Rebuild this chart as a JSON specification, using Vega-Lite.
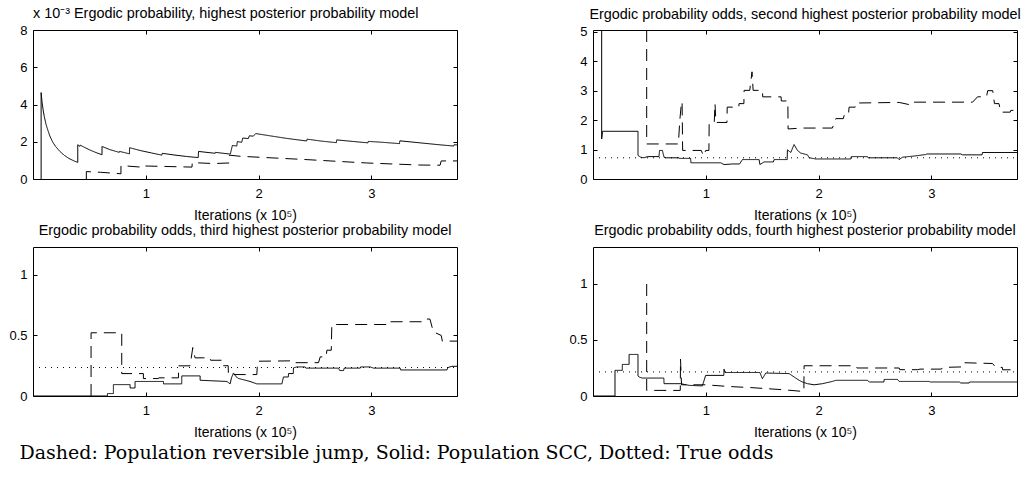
{
  "$schema": "https://vega.github.io/schema/vega-lite/v6.json",
  "background": "white",
  "padding": {"left": 8, "top": 5, "right": 2, "bottom": 2},
  "config": {
    "view": {"stroke": "#000", "strokeWidth": 1},
    "axis": {"labelFont": "Liberation Sans", "labelFontSize": 13, "labelColor": "#000", "titleFont": "Liberation Sans", "titleFontSize": 14, "titleFontWeight": "normal", "titleColor": "#000", "tickColor": "#000", "tickSize": -4, "domain": false, "grid": false, "labelPadding": 10, "titlePadding": 8, "format": "~g", "minExtent": 0},
    "axisX": {"labelPadding": 12},
    "title": {"font": "Liberation Sans", "fontSize": 14.4, "fontWeight": "normal", "color": "#000", "frame": "group", "offset": 8, "baseline": "alphabetic"}
  },
  "datasets": {
    "p1": [
      {"s": "Solid", "i": 1, "x": 0.072, "y": 0},
      {"s": "Solid", "i": 2, "x": 0.072, "y": 4.64},
      {"s": "Solid", "i": 3, "x": 0.08, "y": 4.15},
      {"s": "Solid", "i": 4, "x": 0.09, "y": 3.7},
      {"s": "Solid", "i": 5, "x": 0.1, "y": 3.35},
      {"s": "Solid", "i": 6, "x": 0.115, "y": 2.95},
      {"s": "Solid", "i": 7, "x": 0.13, "y": 2.65},
      {"s": "Solid", "i": 8, "x": 0.15, "y": 2.3},
      {"s": "Solid", "i": 9, "x": 0.175, "y": 1.98},
      {"s": "Solid", "i": 10, "x": 0.2, "y": 1.75},
      {"s": "Solid", "i": 11, "x": 0.24, "y": 1.47},
      {"s": "Solid", "i": 12, "x": 0.28, "y": 1.26},
      {"s": "Solid", "i": 13, "x": 0.32, "y": 1.1},
      {"s": "Solid", "i": 14, "x": 0.36, "y": 0.98},
      {"s": "Solid", "i": 15, "x": 0.397, "y": 0.89},
      {"s": "Solid", "i": 16, "x": 0.397, "y": 1.84},
      {"s": "Solid", "i": 17, "x": 0.41, "y": 1.78},
      {"s": "Solid", "i": 18, "x": 0.415, "y": 1.75},
      {"s": "Solid", "i": 19, "x": 0.418, "y": 1.82},
      {"s": "Solid", "i": 20, "x": 0.45, "y": 1.72},
      {"s": "Solid", "i": 21, "x": 0.5, "y": 1.57},
      {"s": "Solid", "i": 22, "x": 0.55, "y": 1.44},
      {"s": "Solid", "i": 23, "x": 0.612, "y": 1.3},
      {"s": "Solid", "i": 24, "x": 0.612, "y": 1.75},
      {"s": "Solid", "i": 25, "x": 0.68, "y": 1.58},
      {"s": "Solid", "i": 26, "x": 0.765, "y": 1.43},
      {"s": "Solid", "i": 27, "x": 0.768, "y": 1.48},
      {"s": "Solid", "i": 28, "x": 0.81, "y": 1.42},
      {"s": "Solid", "i": 29, "x": 0.855, "y": 1.35},
      {"s": "Solid", "i": 30, "x": 0.857, "y": 1.68},
      {"s": "Solid", "i": 31, "x": 0.95, "y": 1.53},
      {"s": "Solid", "i": 32, "x": 1.05, "y": 1.4},
      {"s": "Solid", "i": 33, "x": 1.143, "y": 1.28},
      {"s": "Solid", "i": 34, "x": 1.146, "y": 1.38},
      {"s": "Solid", "i": 35, "x": 1.25, "y": 1.29},
      {"s": "Solid", "i": 36, "x": 1.36, "y": 1.21},
      {"s": "Solid", "i": 37, "x": 1.465, "y": 1.15},
      {"s": "Solid", "i": 38, "x": 1.468, "y": 1.48},
      {"s": "Solid", "i": 39, "x": 1.6, "y": 1.39},
      {"s": "Solid", "i": 40, "x": 1.615, "y": 1.38},
      {"s": "Solid", "i": 41, "x": 1.617, "y": 1.43},
      {"s": "Solid", "i": 42, "x": 1.746, "y": 1.34},
      {"s": "Solid", "i": 43, "x": 1.75, "y": 1.34},
      {"s": "Solid", "i": 44, "x": 1.768, "y": 1.8},
      {"s": "Solid", "i": 45, "x": 1.807, "y": 1.77},
      {"s": "Solid", "i": 46, "x": 1.812, "y": 2.01},
      {"s": "Solid", "i": 47, "x": 1.851, "y": 1.97},
      {"s": "Solid", "i": 48, "x": 1.86, "y": 2.2},
      {"s": "Solid", "i": 49, "x": 1.91, "y": 2.17},
      {"s": "Solid", "i": 50, "x": 1.918, "y": 2.32},
      {"s": "Solid", "i": 51, "x": 1.954, "y": 2.3},
      {"s": "Solid", "i": 52, "x": 1.975, "y": 2.44},
      {"s": "Solid", "i": 53, "x": 2.1, "y": 2.32},
      {"s": "Solid", "i": 54, "x": 2.25, "y": 2.18},
      {"s": "Solid", "i": 55, "x": 2.427, "y": 2.04},
      {"s": "Solid", "i": 56, "x": 2.43, "y": 2.14},
      {"s": "Solid", "i": 57, "x": 2.55, "y": 2.04},
      {"s": "Solid", "i": 58, "x": 2.69, "y": 1.95},
      {"s": "Solid", "i": 59, "x": 2.693, "y": 2.1},
      {"s": "Solid", "i": 60, "x": 2.83, "y": 2.02},
      {"s": "Solid", "i": 61, "x": 2.97, "y": 1.94},
      {"s": "Solid", "i": 62, "x": 2.973, "y": 2.02},
      {"s": "Solid", "i": 63, "x": 3.1, "y": 1.97},
      {"s": "Solid", "i": 64, "x": 3.25, "y": 1.9},
      {"s": "Solid", "i": 65, "x": 3.253, "y": 2.05},
      {"s": "Solid", "i": 66, "x": 3.45, "y": 1.93},
      {"s": "Solid", "i": 67, "x": 3.6, "y": 1.84},
      {"s": "Solid", "i": 68, "x": 3.73, "y": 1.77},
      {"s": "Solid", "i": 69, "x": 3.735, "y": 1.84},
      {"s": "Solid", "i": 70, "x": 3.76, "y": 1.83},
      {"s": "Dashed", "i": 1, "x": 0.473, "y": 0},
      {"s": "Dashed", "i": 2, "x": 0.473, "y": 0.4},
      {"s": "Dashed", "i": 3, "x": 0.6, "y": 0.36},
      {"s": "Dashed", "i": 4, "x": 0.78, "y": 0.28},
      {"s": "Dashed", "i": 5, "x": 0.78, "y": 0.72},
      {"s": "Dashed", "i": 6, "x": 0.978, "y": 0.63},
      {"s": "Dashed", "i": 7, "x": 0.98, "y": 0.7},
      {"s": "Dashed", "i": 8, "x": 1.41, "y": 0.64},
      {"s": "Dashed", "i": 9, "x": 1.412, "y": 0.88},
      {"s": "Dashed", "i": 10, "x": 1.6, "y": 0.83},
      {"s": "Dashed", "i": 11, "x": 1.74, "y": 0.86},
      {"s": "Dashed", "i": 12, "x": 1.742, "y": 1.28},
      {"s": "Dashed", "i": 13, "x": 1.836, "y": 1.22},
      {"s": "Dashed", "i": 14, "x": 2.43, "y": 1.04},
      {"s": "Dashed", "i": 15, "x": 2.96, "y": 0.86},
      {"s": "Dashed", "i": 16, "x": 3.43, "y": 0.75},
      {"s": "Dashed", "i": 17, "x": 3.61, "y": 0.74},
      {"s": "Dashed", "i": 18, "x": 3.62, "y": 0.97},
      {"s": "Dashed", "i": 19, "x": 3.76, "y": 0.97}
    ],
    "p2": [
      {"s": "Dotted", "i": 1, "x": 0, "y": 0.72},
      {"s": "Dotted", "i": 2, "x": 3.76, "y": 0.72},
      {"s": "Solid", "i": 1, "x": 0.077, "y": 5.06},
      {"s": "Solid", "i": 2, "x": 0.077, "y": 1.36},
      {"s": "Solid", "i": 3, "x": 0.085, "y": 1.62},
      {"s": "Solid", "i": 4, "x": 0.399, "y": 1.62},
      {"s": "Solid", "i": 5, "x": 0.399, "y": 0.8},
      {"s": "Solid", "i": 6, "x": 0.423, "y": 0.74},
      {"s": "Solid", "i": 7, "x": 0.452, "y": 0.72},
      {"s": "Solid", "i": 8, "x": 0.482, "y": 0.76},
      {"s": "Solid", "i": 9, "x": 0.585, "y": 0.76},
      {"s": "Solid", "i": 10, "x": 0.59, "y": 0.97},
      {"s": "Solid", "i": 11, "x": 0.615, "y": 0.97},
      {"s": "Solid", "i": 12, "x": 0.63, "y": 0.74},
      {"s": "Solid", "i": 13, "x": 0.65, "y": 0.72},
      {"s": "Solid", "i": 14, "x": 0.763, "y": 0.72},
      {"s": "Solid", "i": 15, "x": 0.765, "y": 0.7},
      {"s": "Solid", "i": 16, "x": 0.866, "y": 0.7},
      {"s": "Solid", "i": 17, "x": 0.868, "y": 0.55},
      {"s": "Solid", "i": 18, "x": 1.133, "y": 0.55},
      {"s": "Solid", "i": 19, "x": 1.162, "y": 0.49},
      {"s": "Solid", "i": 20, "x": 1.236, "y": 0.51},
      {"s": "Solid", "i": 21, "x": 1.3, "y": 0.51},
      {"s": "Solid", "i": 22, "x": 1.325, "y": 0.66},
      {"s": "Solid", "i": 23, "x": 1.473, "y": 0.66},
      {"s": "Solid", "i": 24, "x": 1.48, "y": 0.49},
      {"s": "Solid", "i": 25, "x": 1.517, "y": 0.58},
      {"s": "Solid", "i": 26, "x": 1.6, "y": 0.58},
      {"s": "Solid", "i": 27, "x": 1.606, "y": 0.66},
      {"s": "Solid", "i": 28, "x": 1.722, "y": 0.66},
      {"s": "Solid", "i": 29, "x": 1.724, "y": 0.99},
      {"s": "Solid", "i": 30, "x": 1.754, "y": 0.9},
      {"s": "Solid", "i": 31, "x": 1.783, "y": 1.17},
      {"s": "Solid", "i": 32, "x": 1.813, "y": 0.97},
      {"s": "Solid", "i": 33, "x": 1.842, "y": 0.88},
      {"s": "Solid", "i": 34, "x": 1.902, "y": 0.82},
      {"s": "Solid", "i": 35, "x": 1.917, "y": 0.72},
      {"s": "Solid", "i": 36, "x": 1.975, "y": 0.68},
      {"s": "Solid", "i": 37, "x": 2.286, "y": 0.68},
      {"s": "Solid", "i": 38, "x": 2.29, "y": 0.76},
      {"s": "Solid", "i": 39, "x": 2.434, "y": 0.76},
      {"s": "Solid", "i": 40, "x": 2.44, "y": 0.72},
      {"s": "Solid", "i": 41, "x": 2.7, "y": 0.72},
      {"s": "Solid", "i": 42, "x": 2.715, "y": 0.66},
      {"s": "Solid", "i": 43, "x": 2.745, "y": 0.74},
      {"s": "Solid", "i": 44, "x": 2.848, "y": 0.78},
      {"s": "Solid", "i": 45, "x": 2.951, "y": 0.83},
      {"s": "Solid", "i": 46, "x": 2.96, "y": 0.85},
      {"s": "Solid", "i": 47, "x": 3.262, "y": 0.85},
      {"s": "Solid", "i": 48, "x": 3.277, "y": 0.82},
      {"s": "Solid", "i": 49, "x": 3.45, "y": 0.82},
      {"s": "Solid", "i": 50, "x": 3.454, "y": 0.9},
      {"s": "Solid", "i": 51, "x": 3.76, "y": 0.9},
      {"s": "Dashed", "i": 1, "x": 0.476, "y": 5.06},
      {"s": "Dashed", "i": 2, "x": 0.476, "y": 1.19},
      {"s": "Dashed", "i": 3, "x": 0.757, "y": 1.19},
      {"s": "Dashed", "i": 4, "x": 0.77, "y": 2.0},
      {"s": "Dashed", "i": 5, "x": 0.785, "y": 2.62},
      {"s": "Dashed", "i": 6, "x": 0.79, "y": 2.62},
      {"s": "Dashed", "i": 7, "x": 0.795, "y": 0.97},
      {"s": "Dashed", "i": 8, "x": 0.96, "y": 0.97},
      {"s": "Dashed", "i": 9, "x": 0.98, "y": 0.78},
      {"s": "Dashed", "i": 10, "x": 1.0, "y": 0.97},
      {"s": "Dashed", "i": 11, "x": 1.028, "y": 0.97},
      {"s": "Dashed", "i": 12, "x": 1.03, "y": 1.88},
      {"s": "Dashed", "i": 13, "x": 1.075, "y": 1.9},
      {"s": "Dashed", "i": 14, "x": 1.082, "y": 2.56},
      {"s": "Dashed", "i": 15, "x": 1.09, "y": 1.92},
      {"s": "Dashed", "i": 16, "x": 1.188, "y": 1.92},
      {"s": "Dashed", "i": 17, "x": 1.19, "y": 2.44},
      {"s": "Dashed", "i": 18, "x": 1.293, "y": 2.44},
      {"s": "Dashed", "i": 19, "x": 1.295, "y": 2.56},
      {"s": "Dashed", "i": 20, "x": 1.338, "y": 2.56},
      {"s": "Dashed", "i": 21, "x": 1.34, "y": 3.01},
      {"s": "Dashed", "i": 22, "x": 1.39, "y": 3.01},
      {"s": "Dashed", "i": 23, "x": 1.41, "y": 3.64},
      {"s": "Dashed", "i": 24, "x": 1.42, "y": 3.01},
      {"s": "Dashed", "i": 25, "x": 1.503, "y": 3.01},
      {"s": "Dashed", "i": 26, "x": 1.505, "y": 2.79},
      {"s": "Dashed", "i": 27, "x": 1.668, "y": 2.79},
      {"s": "Dashed", "i": 28, "x": 1.67, "y": 2.65},
      {"s": "Dashed", "i": 29, "x": 1.728, "y": 2.65},
      {"s": "Dashed", "i": 30, "x": 1.73, "y": 1.7},
      {"s": "Dashed", "i": 31, "x": 1.857, "y": 1.73},
      {"s": "Dashed", "i": 32, "x": 2.123, "y": 1.73},
      {"s": "Dashed", "i": 33, "x": 2.153, "y": 2.05},
      {"s": "Dashed", "i": 34, "x": 2.22, "y": 2.05},
      {"s": "Dashed", "i": 35, "x": 2.227, "y": 2.16},
      {"s": "Dashed", "i": 36, "x": 2.265, "y": 2.16},
      {"s": "Dashed", "i": 37, "x": 2.271, "y": 2.44},
      {"s": "Dashed", "i": 38, "x": 2.325, "y": 2.44},
      {"s": "Dashed", "i": 39, "x": 2.33, "y": 2.58},
      {"s": "Dashed", "i": 40, "x": 2.715, "y": 2.6},
      {"s": "Dashed", "i": 41, "x": 2.8, "y": 2.53},
      {"s": "Dashed", "i": 42, "x": 2.804, "y": 2.61},
      {"s": "Dashed", "i": 43, "x": 3.366, "y": 2.61},
      {"s": "Dashed", "i": 44, "x": 3.41, "y": 2.79},
      {"s": "Dashed", "i": 45, "x": 3.49, "y": 2.8},
      {"s": "Dashed", "i": 46, "x": 3.5, "y": 3.0},
      {"s": "Dashed", "i": 47, "x": 3.545, "y": 3.0},
      {"s": "Dashed", "i": 48, "x": 3.56, "y": 2.56},
      {"s": "Dashed", "i": 49, "x": 3.6, "y": 2.56},
      {"s": "Dashed", "i": 50, "x": 3.617, "y": 2.27},
      {"s": "Dashed", "i": 51, "x": 3.7, "y": 2.27},
      {"s": "Dashed", "i": 52, "x": 3.705, "y": 2.33},
      {"s": "Dashed", "i": 53, "x": 3.76, "y": 2.33}
    ],
    "p3": [
      {"s": "Dotted", "i": 1, "x": 0, "y": 0.235},
      {"s": "Dotted", "i": 2, "x": 3.76, "y": 0.235},
      {"s": "Solid", "i": 1, "x": 0, "y": 0},
      {"s": "Solid", "i": 2, "x": 0.66, "y": 0},
      {"s": "Solid", "i": 3, "x": 0.66, "y": 0.02},
      {"s": "Solid", "i": 4, "x": 0.713, "y": 0.02},
      {"s": "Solid", "i": 5, "x": 0.713, "y": 0.094},
      {"s": "Solid", "i": 6, "x": 0.861, "y": 0.094},
      {"s": "Solid", "i": 7, "x": 0.861, "y": 0.066},
      {"s": "Solid", "i": 8, "x": 0.905, "y": 0.066},
      {"s": "Solid", "i": 9, "x": 0.905, "y": 0.12},
      {"s": "Solid", "i": 10, "x": 1.157, "y": 0.12},
      {"s": "Solid", "i": 11, "x": 1.157, "y": 0.1},
      {"s": "Solid", "i": 12, "x": 1.319, "y": 0.1},
      {"s": "Solid", "i": 13, "x": 1.319, "y": 0.166},
      {"s": "Solid", "i": 14, "x": 1.482, "y": 0.166},
      {"s": "Solid", "i": 15, "x": 1.482, "y": 0.13},
      {"s": "Solid", "i": 16, "x": 1.72, "y": 0.12},
      {"s": "Solid", "i": 17, "x": 1.748, "y": 0.1},
      {"s": "Solid", "i": 18, "x": 1.76, "y": 0.15},
      {"s": "Solid", "i": 19, "x": 1.778, "y": 0.19},
      {"s": "Solid", "i": 20, "x": 1.8, "y": 0.16},
      {"s": "Solid", "i": 21, "x": 1.822, "y": 0.145},
      {"s": "Solid", "i": 22, "x": 1.925, "y": 0.12},
      {"s": "Solid", "i": 23, "x": 1.985, "y": 0.1},
      {"s": "Solid", "i": 24, "x": 2.207, "y": 0.1},
      {"s": "Solid", "i": 25, "x": 2.221, "y": 0.157},
      {"s": "Solid", "i": 26, "x": 2.264, "y": 0.157},
      {"s": "Solid", "i": 27, "x": 2.266, "y": 0.185},
      {"s": "Solid", "i": 28, "x": 2.308, "y": 0.185},
      {"s": "Solid", "i": 29, "x": 2.31, "y": 0.232},
      {"s": "Solid", "i": 30, "x": 2.339, "y": 0.24},
      {"s": "Solid", "i": 31, "x": 2.413, "y": 0.24},
      {"s": "Solid", "i": 32, "x": 2.42, "y": 0.23},
      {"s": "Solid", "i": 33, "x": 2.709, "y": 0.23},
      {"s": "Solid", "i": 34, "x": 2.72, "y": 0.21},
      {"s": "Solid", "i": 35, "x": 2.754, "y": 0.21},
      {"s": "Solid", "i": 36, "x": 2.76, "y": 0.23},
      {"s": "Solid", "i": 37, "x": 2.902, "y": 0.23},
      {"s": "Solid", "i": 38, "x": 2.905, "y": 0.24},
      {"s": "Solid", "i": 39, "x": 2.99, "y": 0.24},
      {"s": "Solid", "i": 40, "x": 3.02, "y": 0.23},
      {"s": "Solid", "i": 41, "x": 3.256, "y": 0.23},
      {"s": "Solid", "i": 42, "x": 3.26, "y": 0.215},
      {"s": "Solid", "i": 43, "x": 3.671, "y": 0.215},
      {"s": "Solid", "i": 44, "x": 3.68, "y": 0.235},
      {"s": "Solid", "i": 45, "x": 3.715, "y": 0.245},
      {"s": "Solid", "i": 46, "x": 3.76, "y": 0.245},
      {"s": "Dashed", "i": 1, "x": 0.515, "y": 0},
      {"s": "Dashed", "i": 2, "x": 0.515, "y": 0.522},
      {"s": "Dashed", "i": 3, "x": 0.787, "y": 0.522},
      {"s": "Dashed", "i": 4, "x": 0.787, "y": 0.185},
      {"s": "Dashed", "i": 5, "x": 0.979, "y": 0.185},
      {"s": "Dashed", "i": 6, "x": 0.979, "y": 0.144},
      {"s": "Dashed", "i": 7, "x": 1.112, "y": 0.144},
      {"s": "Dashed", "i": 8, "x": 1.115, "y": 0.15},
      {"s": "Dashed", "i": 9, "x": 1.29, "y": 0.15},
      {"s": "Dashed", "i": 10, "x": 1.29, "y": 0.249},
      {"s": "Dashed", "i": 11, "x": 1.393, "y": 0.249},
      {"s": "Dashed", "i": 12, "x": 1.417, "y": 0.4},
      {"s": "Dashed", "i": 13, "x": 1.437, "y": 0.315},
      {"s": "Dashed", "i": 14, "x": 1.571, "y": 0.315},
      {"s": "Dashed", "i": 15, "x": 1.575, "y": 0.295},
      {"s": "Dashed", "i": 16, "x": 1.672, "y": 0.295},
      {"s": "Dashed", "i": 17, "x": 1.674, "y": 0.25},
      {"s": "Dashed", "i": 18, "x": 1.731, "y": 0.25},
      {"s": "Dashed", "i": 19, "x": 1.733, "y": 0.177},
      {"s": "Dashed", "i": 20, "x": 1.985, "y": 0.177},
      {"s": "Dashed", "i": 21, "x": 1.991, "y": 0.287},
      {"s": "Dashed", "i": 22, "x": 2.28, "y": 0.29},
      {"s": "Dashed", "i": 23, "x": 2.285, "y": 0.275},
      {"s": "Dashed", "i": 24, "x": 2.532, "y": 0.275},
      {"s": "Dashed", "i": 25, "x": 2.547, "y": 0.323},
      {"s": "Dashed", "i": 26, "x": 2.6, "y": 0.323},
      {"s": "Dashed", "i": 27, "x": 2.606, "y": 0.378},
      {"s": "Dashed", "i": 28, "x": 2.645, "y": 0.378},
      {"s": "Dashed", "i": 29, "x": 2.65, "y": 0.59},
      {"s": "Dashed", "i": 30, "x": 3.166, "y": 0.59},
      {"s": "Dashed", "i": 31, "x": 3.168, "y": 0.613},
      {"s": "Dashed", "i": 32, "x": 3.478, "y": 0.613},
      {"s": "Dashed", "i": 33, "x": 3.49, "y": 0.635},
      {"s": "Dashed", "i": 34, "x": 3.52, "y": 0.635},
      {"s": "Dashed", "i": 35, "x": 3.55, "y": 0.53},
      {"s": "Dashed", "i": 36, "x": 3.62, "y": 0.5},
      {"s": "Dashed", "i": 37, "x": 3.63, "y": 0.453},
      {"s": "Dashed", "i": 38, "x": 3.76, "y": 0.453}
    ],
    "p4": [
      {"s": "Dotted", "i": 1, "x": 0, "y": 0.215},
      {"s": "Dotted", "i": 2, "x": 3.76, "y": 0.215},
      {"s": "Solid", "i": 1, "x": 0, "y": 0},
      {"s": "Solid", "i": 2, "x": 0.195, "y": 0},
      {"s": "Solid", "i": 3, "x": 0.195, "y": 0.229},
      {"s": "Solid", "i": 4, "x": 0.26, "y": 0.229},
      {"s": "Solid", "i": 5, "x": 0.26, "y": 0.282},
      {"s": "Solid", "i": 6, "x": 0.32, "y": 0.282},
      {"s": "Solid", "i": 7, "x": 0.32, "y": 0.371},
      {"s": "Solid", "i": 8, "x": 0.399, "y": 0.371},
      {"s": "Solid", "i": 9, "x": 0.399, "y": 0.178},
      {"s": "Solid", "i": 10, "x": 0.408, "y": 0.17},
      {"s": "Solid", "i": 11, "x": 0.437, "y": 0.16},
      {"s": "Solid", "i": 12, "x": 0.628, "y": 0.16},
      {"s": "Solid", "i": 13, "x": 0.63, "y": 0.11},
      {"s": "Solid", "i": 14, "x": 0.778, "y": 0.11},
      {"s": "Solid", "i": 15, "x": 0.852, "y": 0.095},
      {"s": "Solid", "i": 16, "x": 0.97, "y": 0.09},
      {"s": "Solid", "i": 17, "x": 0.999, "y": 0.184},
      {"s": "Solid", "i": 18, "x": 1.16, "y": 0.184},
      {"s": "Solid", "i": 19, "x": 1.162, "y": 0.24},
      {"s": "Solid", "i": 20, "x": 1.17, "y": 0.21},
      {"s": "Solid", "i": 21, "x": 1.48, "y": 0.21},
      {"s": "Solid", "i": 22, "x": 1.502, "y": 0.154},
      {"s": "Solid", "i": 23, "x": 1.532, "y": 0.205},
      {"s": "Solid", "i": 24, "x": 1.739, "y": 0.2},
      {"s": "Solid", "i": 25, "x": 1.783, "y": 0.17},
      {"s": "Solid", "i": 26, "x": 1.828, "y": 0.14},
      {"s": "Solid", "i": 27, "x": 1.857, "y": 0.125},
      {"s": "Solid", "i": 28, "x": 1.902, "y": 0.11},
      {"s": "Solid", "i": 29, "x": 1.961, "y": 0.1},
      {"s": "Solid", "i": 30, "x": 2.035, "y": 0.11},
      {"s": "Solid", "i": 31, "x": 2.123, "y": 0.13},
      {"s": "Solid", "i": 32, "x": 2.153, "y": 0.14},
      {"s": "Solid", "i": 33, "x": 2.434, "y": 0.14},
      {"s": "Solid", "i": 34, "x": 2.449, "y": 0.125},
      {"s": "Solid", "i": 35, "x": 2.58, "y": 0.125},
      {"s": "Solid", "i": 36, "x": 2.582, "y": 0.148},
      {"s": "Solid", "i": 37, "x": 2.7, "y": 0.148},
      {"s": "Solid", "i": 38, "x": 2.715, "y": 0.13},
      {"s": "Solid", "i": 39, "x": 2.981, "y": 0.13},
      {"s": "Solid", "i": 40, "x": 2.99, "y": 0.125},
      {"s": "Solid", "i": 41, "x": 3.248, "y": 0.125},
      {"s": "Solid", "i": 42, "x": 3.262, "y": 0.116},
      {"s": "Solid", "i": 43, "x": 3.336, "y": 0.116},
      {"s": "Solid", "i": 44, "x": 3.34, "y": 0.125},
      {"s": "Solid", "i": 45, "x": 3.76, "y": 0.125},
      {"s": "Dashed", "i": 1, "x": 0.476, "y": 1.0},
      {"s": "Dashed", "i": 2, "x": 0.476, "y": 0.05},
      {"s": "Dashed", "i": 3, "x": 0.774, "y": 0.05},
      {"s": "Dashed", "i": 4, "x": 0.776, "y": 0.33},
      {"s": "Dashed", "i": 5, "x": 0.785, "y": 0.1},
      {"s": "Dashed", "i": 6, "x": 1.0, "y": 0.1},
      {"s": "Dashed", "i": 7, "x": 1.2, "y": 0.085},
      {"s": "Dashed", "i": 8, "x": 1.4, "y": 0.075},
      {"s": "Dashed", "i": 9, "x": 1.55, "y": 0.065},
      {"s": "Dashed", "i": 10, "x": 1.7, "y": 0.055},
      {"s": "Dashed", "i": 11, "x": 1.87, "y": 0.04},
      {"s": "Dashed", "i": 12, "x": 1.872, "y": 0.27},
      {"s": "Dashed", "i": 13, "x": 2.33, "y": 0.27},
      {"s": "Dashed", "i": 14, "x": 2.34, "y": 0.25},
      {"s": "Dashed", "i": 15, "x": 2.715, "y": 0.25},
      {"s": "Dashed", "i": 16, "x": 2.72, "y": 0.235},
      {"s": "Dashed", "i": 17, "x": 2.878, "y": 0.235},
      {"s": "Dashed", "i": 18, "x": 2.9, "y": 0.24},
      {"s": "Dashed", "i": 19, "x": 3.09, "y": 0.24},
      {"s": "Dashed", "i": 20, "x": 3.1, "y": 0.255},
      {"s": "Dashed", "i": 21, "x": 3.285, "y": 0.26},
      {"s": "Dashed", "i": 22, "x": 3.292, "y": 0.297},
      {"s": "Dashed", "i": 23, "x": 3.543, "y": 0.29},
      {"s": "Dashed", "i": 24, "x": 3.572, "y": 0.255},
      {"s": "Dashed", "i": 25, "x": 3.63, "y": 0.255},
      {"s": "Dashed", "i": 26, "x": 3.632, "y": 0.234},
      {"s": "Dashed", "i": 27, "x": 3.76, "y": 0.234}
    ]
  },
  "columns": 2,
  "spacing": {"row": 68, "column": 136},
  "bounds": "flush",
  "title": {"text": "Dashed: Population reversible jump, Solid: Population SCC, Dotted: True odds", "orient": "bottom", "anchor": "start", "frame": "bounds", "baseline": "top", "font": "DejaVu Serif", "fontSize": 19, "fontWeight": "normal", "color": "#000", "offset": 4, "dx": 11},
  "concat": [
    {
      "width": 424, "height": 149,
      "data": {"name": "p1"},
      "title": {"text": "x 10⁻³ Ergodic probability, highest posterior probability model", "anchor": "start", "offset": 3},
      "layer": [
        {"mark": {"type": "line", "clip": true, "strokeWidth": 1, "color": "#000"},
         "encoding": {
           "x": {"field": "x", "type": "quantitative", "scale": {"domain": [0, 3.76], "nice": false, "zero": false}, "axis": {"orient": "bottom", "values": [1, 2, 3], "title": "Iterations (x 10⁵)"}},
           "y": {"field": "y", "type": "quantitative", "scale": {"domain": [0, 8], "nice": false}, "axis": {"orient": "left", "values": [0, 2, 4, 6, 8], "title": null}},
           "strokeDash": {"field": "s", "type": "nominal", "scale": {"domain": ["Solid", "Dashed", "Dotted"], "range": [[1, 0], [12, 7], [1, 5]]}, "legend": null},
           "order": {"field": "i", "type": "quantitative"}
         }},
        {"mark": {"type": "line", "opacity": 0},
         "encoding": {
           "x": {"field": "x", "type": "quantitative", "axis": {"orient": "top", "values": [1, 2, 3], "labels": false, "title": null}},
           "y": {"field": "y", "type": "quantitative", "axis": {"orient": "right", "values": [0, 2, 4, 6, 8], "labels": false, "title": null}}
         }}
      ],
      "resolve": {"axis": {"x": "independent", "y": "independent"}}
    },
    {
      "width": 424, "height": 149,
      "data": {"name": "p2"},
      "title": {"text": "Ergodic probability odds, second highest posterior probability model", "offset": 3},
      "layer": [
        {"mark": {"type": "line", "clip": true, "strokeWidth": 1, "color": "#000"},
         "encoding": {
           "x": {"field": "x", "type": "quantitative", "scale": {"domain": [0, 3.76], "nice": false, "zero": false}, "axis": {"orient": "bottom", "values": [1, 2, 3], "title": "Iterations (x 10⁵)"}},
           "y": {"field": "y", "type": "quantitative", "scale": {"domain": [0, 5.06], "nice": false}, "axis": {"orient": "left", "values": [0, 1, 2, 3, 4, 5], "title": null}},
           "strokeDash": {"field": "s", "type": "nominal", "scale": {"domain": ["Solid", "Dashed", "Dotted"], "range": [[1, 0], [12, 7], [1, 5]]}, "legend": null},
           "order": {"field": "i", "type": "quantitative"}
         }},
        {"mark": {"type": "line", "opacity": 0},
         "encoding": {
           "x": {"field": "x", "type": "quantitative", "axis": {"orient": "top", "values": [1, 2, 3], "labels": false, "title": null}},
           "y": {"field": "y", "type": "quantitative", "axis": {"orient": "right", "values": [0, 1, 2, 3, 4, 5], "labels": false, "title": null}}
         }}
      ],
      "resolve": {"axis": {"x": "independent", "y": "independent"}}
    },
    {
      "width": 424, "height": 149,
      "data": {"name": "p3"},
      "title": {"text": "Ergodic probability odds, third highest posterior probability model", "offset": 8},
      "layer": [
        {"mark": {"type": "line", "clip": true, "strokeWidth": 1, "color": "#000"},
         "encoding": {
           "x": {"field": "x", "type": "quantitative", "scale": {"domain": [0, 3.76], "nice": false, "zero": false}, "axis": {"orient": "bottom", "values": [1, 2, 3], "title": "Iterations (x 10⁵)"}},
           "y": {"field": "y", "type": "quantitative", "scale": {"domain": [0, 1.23], "nice": false}, "axis": {"orient": "left", "values": [0, 0.5, 1], "title": null}},
           "strokeDash": {"field": "s", "type": "nominal", "scale": {"domain": ["Solid", "Dashed", "Dotted"], "range": [[1, 0], [12, 7], [1, 5]]}, "legend": null},
           "order": {"field": "i", "type": "quantitative"}
         }},
        {"mark": {"type": "line", "opacity": 0},
         "encoding": {
           "x": {"field": "x", "type": "quantitative", "axis": {"orient": "top", "values": [1, 2, 3], "labels": false, "title": null}},
           "y": {"field": "y", "type": "quantitative", "axis": {"orient": "right", "values": [0, 0.5, 1], "labels": false, "title": null}}
         }}
      ],
      "resolve": {"axis": {"x": "independent", "y": "independent"}}
    },
    {
      "width": 424, "height": 149,
      "data": {"name": "p4"},
      "title": {"text": "Ergodic probability odds, fourth highest posterior probability model", "offset": 8},
      "layer": [
        {"mark": {"type": "line", "clip": true, "strokeWidth": 1, "color": "#000"},
         "encoding": {
           "x": {"field": "x", "type": "quantitative", "scale": {"domain": [0, 3.76], "nice": false, "zero": false}, "axis": {"orient": "bottom", "values": [1, 2, 3], "title": "Iterations (x 10⁵)"}},
           "y": {"field": "y", "type": "quantitative", "scale": {"domain": [0, 1.33], "nice": false}, "axis": {"orient": "left", "values": [0, 0.5, 1], "title": null}},
           "strokeDash": {"field": "s", "type": "nominal", "scale": {"domain": ["Solid", "Dashed", "Dotted"], "range": [[1, 0], [12, 7], [1, 5]]}, "legend": null},
           "order": {"field": "i", "type": "quantitative"}
         }},
        {"mark": {"type": "line", "opacity": 0},
         "encoding": {
           "x": {"field": "x", "type": "quantitative", "axis": {"orient": "top", "values": [1, 2, 3], "labels": false, "title": null}},
           "y": {"field": "y", "type": "quantitative", "axis": {"orient": "right", "values": [0, 0.5, 1], "labels": false, "title": null}}
         }}
      ],
      "resolve": {"axis": {"x": "independent", "y": "independent"}}
    }
  ]
}
